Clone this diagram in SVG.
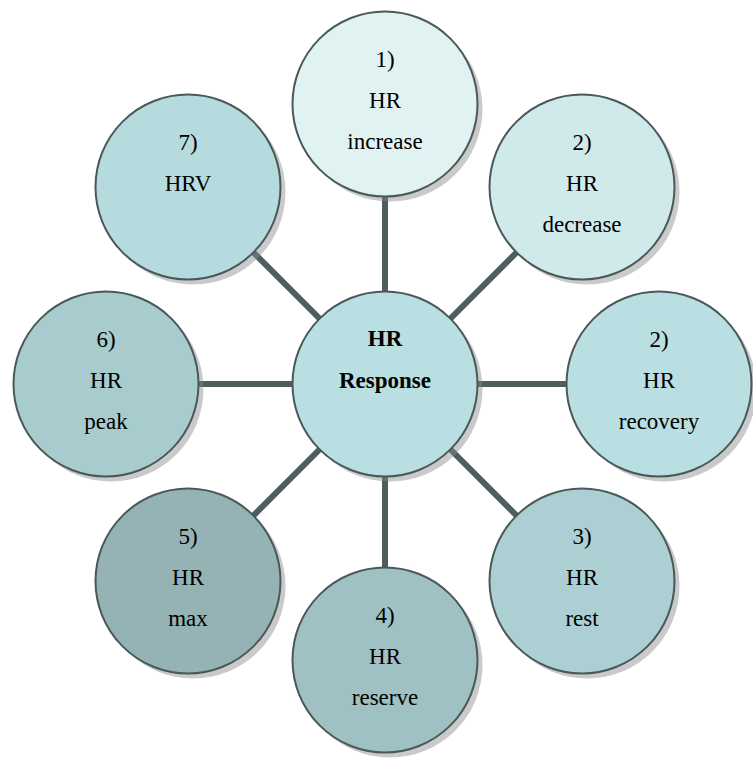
<svg xmlns="http://www.w3.org/2000/svg" width="753" height="760" viewBox="0 0 753 760">
  <style>
    .edge { stroke: #4e5d5d; stroke-width: 6; fill: none; }
    .shadow { fill: #8a8a8a; fill-opacity: 0.45; }
    .disc { stroke: #4a5858; stroke-width: 2; }
    text { font-family: 'Liberation Serif', 'Times New Roman', Tinos, 'DejaVu Serif', serif; font-size: 23px; fill: #000; text-anchor: middle; }
    .bold { font-weight: bold; }
  </style>
  <defs>
    <circle id="shape" r="92.5"/>
  </defs>

  <rect width="753" height="760" fill="#ffffff"/>

  <!-- spokes from the hub to every outer circle -->
  <g id="connectors">
    <line class="edge" x1="385" y1="384" x2="385" y2="104"/>
    <line class="edge" x1="385" y1="384" x2="582" y2="187"/>
    <line class="edge" x1="385" y1="384" x2="659" y2="384"/>
    <line class="edge" x1="385" y1="384" x2="582" y2="581"/>
    <line class="edge" x1="385" y1="384" x2="385" y2="660"/>
    <line class="edge" x1="385" y1="384" x2="188" y2="581"/>
    <line class="edge" x1="385" y1="384" x2="106" y2="384"/>
    <line class="edge" x1="385" y1="384" x2="188" y2="187"/>
  </g>

  <g id="hub" transform="translate(385,384)">
    <use href="#shape" class="shadow" x="5" y="5"/>
    <use href="#shape" class="disc" fill="#b9dfe3"/>
    <text class="bold" y="-38">HR</text>
    <text class="bold" y="4">Response</text>
  </g>

  <g id="hr-increase" transform="translate(385,104)">
    <use href="#shape" class="shadow" x="5" y="5"/>
    <use href="#shape" class="disc" fill="#e1f2f3"/>
    <text y="-37">1)</text>
    <text y="4">HR</text>
    <text y="45">increase</text>
  </g>

  <g id="hr-decrease" transform="translate(582,187)">
    <use href="#shape" class="shadow" x="5" y="5"/>
    <use href="#shape" class="disc" fill="#d0e9eb"/>
    <text y="-37">2)</text>
    <text y="4">HR</text>
    <text y="45">decrease</text>
  </g>

  <g id="hr-recovery" transform="translate(659,384)">
    <use href="#shape" class="shadow" x="5" y="5"/>
    <use href="#shape" class="disc" fill="#b9dfe3"/>
    <text y="-37">2)</text>
    <text y="4">HR</text>
    <text y="45">recovery</text>
  </g>

  <g id="hr-rest" transform="translate(582,581)">
    <use href="#shape" class="shadow" x="5" y="5"/>
    <use href="#shape" class="disc" fill="#abcfd2"/>
    <text y="-37">3)</text>
    <text y="4">HR</text>
    <text y="45">rest</text>
  </g>

  <g id="hr-reserve" transform="translate(385,660)">
    <use href="#shape" class="shadow" x="5" y="5"/>
    <use href="#shape" class="disc" fill="#a0c1c3"/>
    <text y="-37">4)</text>
    <text y="4">HR</text>
    <text y="45">reserve</text>
  </g>

  <g id="hr-max" transform="translate(188,581)">
    <use href="#shape" class="shadow" x="5" y="5"/>
    <use href="#shape" class="disc" fill="#95b3b4"/>
    <text y="-37">5)</text>
    <text y="4">HR</text>
    <text y="45">max</text>
  </g>

  <g id="hr-peak" transform="translate(106,384)">
    <use href="#shape" class="shadow" x="5" y="5"/>
    <use href="#shape" class="disc" fill="#a8cbcd"/>
    <text y="-37">6)</text>
    <text y="4">HR</text>
    <text y="45">peak</text>
  </g>

  <g id="hrv" transform="translate(188,187)">
    <use href="#shape" class="shadow" x="5" y="5"/>
    <use href="#shape" class="disc" fill="#b5dbdf"/>
    <text y="-37">7)</text>
    <text y="4">HRV</text>
  </g>
</svg>
